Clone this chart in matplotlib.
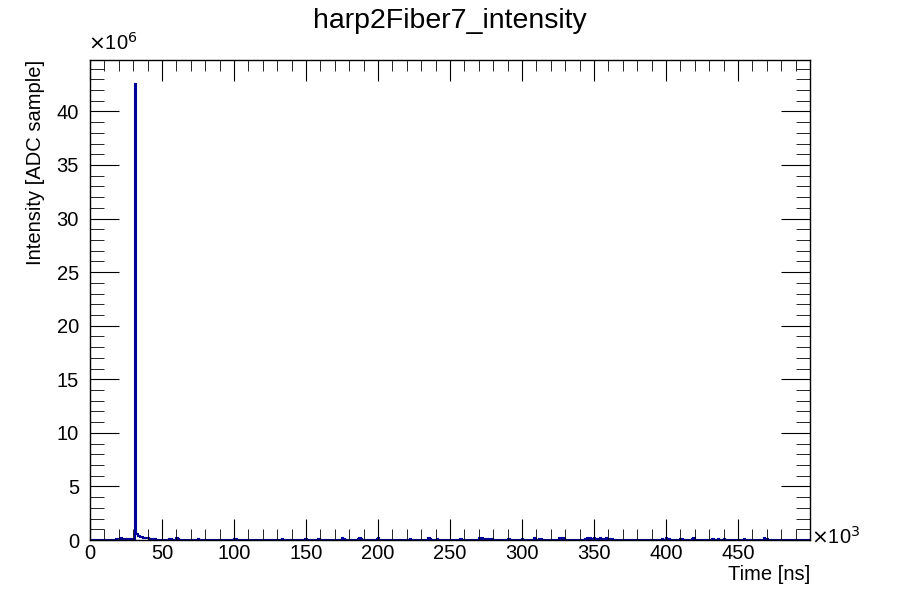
import numpy as np
import matplotlib
matplotlib.use("Agg")
import matplotlib.pyplot as plt
from matplotlib.ticker import MultipleLocator

plt.rcParams["font.family"] = ["Liberation Sans", "DejaVu Sans"]

# histogram: 500 bins of 1000 ns between 0 and 500e3 ns, mostly empty
bin_width_ns = 1000.0
n_bins = 500
# filled bins (bin index -> intensity in ADC sample)
peak_bins = [31]
peak_vals = [42.6e6]
tail_bins = [32, 33, 34, 35, 36, 37, 38, 39, 40, 41, 42, 43, 44, 45]
tail_vals = [0.55e6, 0.42e6, 0.35e6, 0.3e6, 0.25e6, 0.22e6, 0.2e6, 0.18e6,
             0.15e6, 0.13e6, 0.12e6, 0.1e6, 0.1e6, 0.08e6]
blip_bins = [18, 19, 20, 21, 22, 23, 24, 25, 26, 27, 28, 55, 56, 60, 61, 75,
             100, 101, 133, 149, 150, 158, 159, 175, 176, 186, 187, 188, 199, 200,
             222, 235, 236, 241, 257, 270, 271, 272, 273, 275, 277, 279, 290, 291,
             300, 308, 309, 312, 313, 326, 327, 328, 329, 344, 345, 346, 347, 348,
             350, 352, 354, 356, 358, 360, 362, 397, 400, 402, 410, 411, 418, 419,
             432, 436, 440, 454, 468, 469, 470]
blip_vals = [0.1e6, 0.12e6, 0.1e6, 0.15e6, 0.1e6, 0.12e6, 0.1e6, 0.1e6, 0.12e6, 0.1e6, 0.1e6,
             0.12e6, 0.1e6, 0.15e6, 0.12e6, 0.1e6,
             0.12e6, 0.1e6, 0.1e6, 0.12e6, 0.1e6, 0.12e6, 0.1e6, 0.15e6, 0.1e6,
             0.12e6, 0.15e6, 0.1e6, 0.12e6, 0.15e6,
             0.12e6, 0.15e6, 0.1e6, 0.1e6, 0.1e6, 0.15e6, 0.12e6, 0.15e6, 0.12e6,
             0.1e6, 0.12e6, 0.1e6, 0.12e6, 0.1e6,
             0.12e6, 0.15e6, 0.1e6, 0.12e6, 0.1e6, 0.15e6, 0.12e6, 0.15e6, 0.1e6,
             0.12e6, 0.15e6, 0.12e6, 0.15e6, 0.12e6,
             0.15e6, 0.12e6, 0.15e6, 0.12e6, 0.15e6, 0.12e6, 0.1e6, 0.12e6, 0.15e6,
             0.1e6, 0.12e6, 0.1e6, 0.12e6, 0.15e6,
             0.12e6, 0.1e6, 0.12e6, 0.1e6, 0.15e6, 0.12e6, 0.1e6]

counts = np.zeros(n_bins)
for b, v in zip(peak_bins + tail_bins + blip_bins, peak_vals + tail_vals + blip_vals):
    counts[b] = v
edges = np.arange(n_bins + 1) * bin_width_ns

fig = plt.figure(figsize=(9, 6), dpi=100)
ax = fig.add_axes([0.1, 0.1, 0.8, 0.8])
ax.stairs(counts / 1e6, edges / 1e3, color="#000099", linewidth=1.5, baseline=0)
ax.set_xlim(0, 500)
ax.set_ylim(0, 44.8)

ax.xaxis.set_major_locator(MultipleLocator(50))
ax.xaxis.set_minor_locator(MultipleLocator(10))
ax.yaxis.set_major_locator(MultipleLocator(5))
ax.yaxis.set_minor_locator(MultipleLocator(1))
ax.set_xticks([0, 50, 100, 150, 200, 250, 300, 350, 400, 450])
ax.tick_params(which="both", direction="in", top=True, right=True, labelsize=14.5)
ax.tick_params(axis="x", which="major", length=15, pad=3)
ax.tick_params(axis="x", which="minor", length=8)
ax.tick_params(axis="y", which="major", length=21, pad=8)
ax.tick_params(axis="y", which="minor", length=10)
for s in ax.spines.values():
    s.set_linewidth(1.0)

fig.text(0.5, 0.965, "harp2Fiber7_intensity", ha="center", va="center", fontsize=20.5)
ax.set_xlabel("Time [ns]", fontsize=14.5, loc="right", labelpad=1)
ax.set_ylabel("Intensity [ADC sample]", fontsize=14.5, loc="top", labelpad=8)
fig.text(0.098, 0.91, r"$\times$10$^{6}$", ha="left", va="bottom", fontsize=14.5)
fig.text(0.901, 0.105, r"$\times$10$^{3}$", ha="left", va="center", fontsize=14.5)

fig.savefig("out.png", dpi=100)
